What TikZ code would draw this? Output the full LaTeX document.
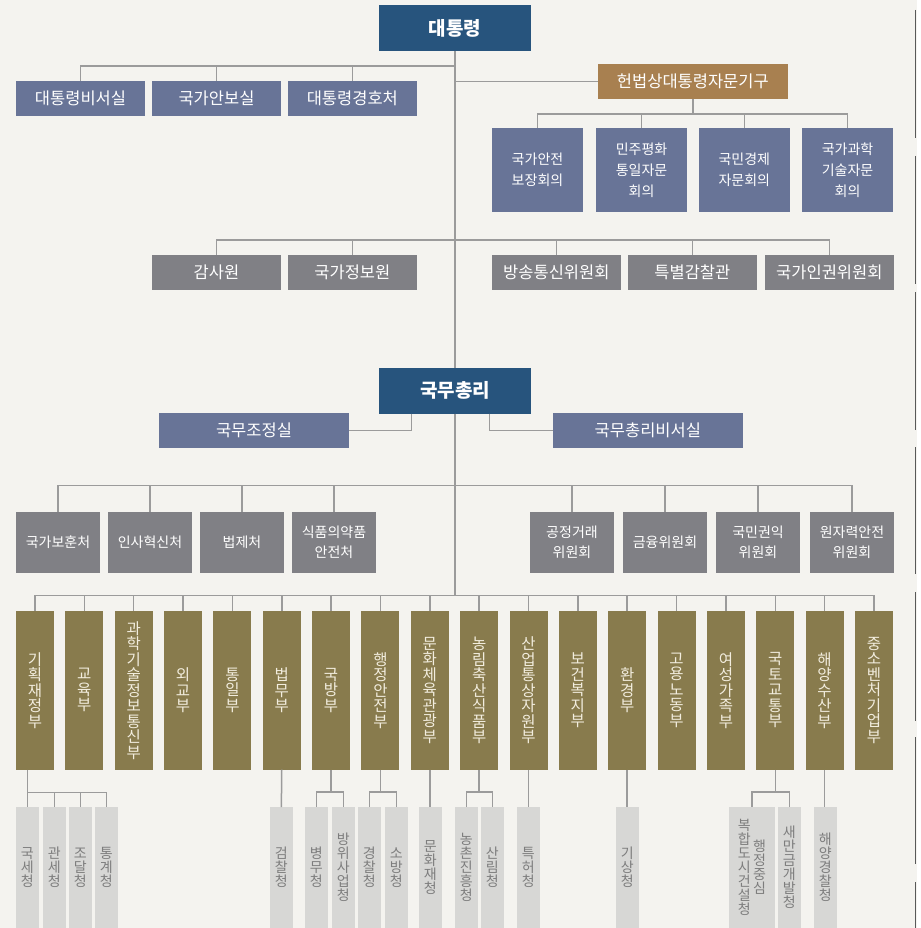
\documentclass[tikz,border=0pt]{standalone}
\usepackage{fontspec}
\setmainfont{Noto Sans CJK KR}
\definecolor{cbg}{RGB}{244,243,239}
\definecolor{cpres}{RGB}{39,84,125}
\definecolor{cslate}{RGB}{104,116,151}
\definecolor{cbrown}{RGB}{168,128,80}
\definecolor{cgray}{RGB}{128,128,133}
\definecolor{colive}{RGB}{136,123,77}
\definecolor{cmtext}{RGB}{242,237,222}
\definecolor{cagen}{RGB}{215,215,213}
\definecolor{catext}{RGB}{125,125,125}
\definecolor{cline}{RGB}{155,155,155}
\def\vstEnd{VSTEND}
\def\vstA#1{\ifx#1\vstEnd\else\hbox{#1}\expandafter\vstA\fi}
\newcommand\vlist[2]{\baselineskip=#1pt\lineskiplimit=-100pt\lineskip=0pt\expandafter\vstA#2\vstEnd}
\newcommand\vtext[2]{\vbox{\vlist{#1}{#2}}}
\newcommand\bx[7]{\node[#6, minimum width={#4-#2}, minimum height={#5-#3}] (#1) at ({(#2+#4)/2},{(#3+#5)/2}) {#7};}
\tikzset{
  box/.style={draw=none, inner sep=0pt, outer sep=0pt, align=center, text=white},
  pres/.style={box, fill=cpres, font=\fontsize{19}{22}\selectfont\bfseries},
  sec/.style={box, fill=cslate, font=\fontsize{16.5}{20}\selectfont},
  adv/.style={box, fill=cbrown, font=\fontsize{16.5}{20}\selectfont},
  advs/.style={box, fill=cslate, font=\fontsize{14}{21}\selectfont},
  grayb/.style={box, fill=cgray, font=\fontsize{16.5}{20}\selectfont},
  grays/.style={box, fill=cgray, font=\fontsize{14}{20.7}\selectfont},
  mini/.style={box, fill=colive, text=cmtext, font=\fontsize{15.5}{15.5}\selectfont},
  agen/.style={box, fill=cagen, text=catext, font=\fontsize{14}{14}\selectfont},
  conn/.style={draw=cline, line width=1.5pt},
  sbar/.style={draw=black!65, line width=1.3pt}
}
\begin{document}
\begin{tikzpicture}[x=1pt,y=-1pt]
\fill[cbg] (0,0) rectangle (920,928);
\useasboundingbox (0,0) rectangle (920,928);
\fill[white] (916.5,0) rectangle (920,928);
% scrollbar-like segments
\foreach \a/\b in {10/138,156/284,292/430,447/574,592/721,737/864,882/928}
  \draw[sbar] (915.7,\a) -- (915.7,\b);

% President
\bx{pres}{379}{5}{531}{51}{pres}{대통령}
\bx{s1}{16}{81}{145}{116}{sec}{대통령비서실}
\bx{s2}{152}{81}{281}{116}{sec}{국가안보실}
\bx{s3}{288}{81}{416.7}{116}{sec}{대통령경호처}
\bx{hb}{598}{64}{787.7}{98.7}{adv}{헌법상대통령자문기구}
\bx{a1}{492}{128}{583}{211.7}{advs}{국가안전\\보장회의}
\bx{a2}{596}{128}{687}{211.7}{advs}{민주평화\\통일자문\\회의}
\bx{a3}{699}{128}{789.7}{211.7}{advs}{국민경제\\자문회의}
\bx{a4}{802}{128}{893}{211.7}{advs}{국가과학\\기술자문\\회의}
\bx{g1}{152}{255}{281}{289.7}{grayb}{감사원}
\bx{g2}{288}{255}{416.7}{289.7}{grayb}{국가정보원}
\bx{g3}{492}{255}{620.7}{289.7}{grayb}{방송통신위원회}
\bx{g4}{628}{255}{756.7}{289.7}{grayb}{특별감찰관}
\bx{g5}{765}{255}{893.7}{289.7}{grayb}{국가인권위원회}

% Prime minister
\bx{pm}{379}{368}{531}{413.7}{pres}{국무총리}
\bx{oc}{159}{413}{349}{447.7}{sec}{국무조정실}
\bx{ps}{553}{413}{742.7}{447.7}{sec}{국무총리비서실}
\bx{o1}{16}{512}{100}{572.7}{grays}{국가보훈처}
\bx{o2}{108}{512}{192}{572.7}{grays}{인사혁신처}
\bx{o3}{200}{512}{284}{572.7}{grays}{법제처}
\bx{o4}{292}{512}{376}{572.7}{grays}{식품의약품\\안전처}
\bx{o5}{530}{512}{614}{572.7}{grays}{공정거래\\위원회}
\bx{o6}{623}{512}{707}{572.7}{grays}{금융위원회}
\bx{o7}{716}{512}{800}{572.7}{grays}{국민권익\\위원회}
\bx{o8}{810}{512}{894}{572.7}{grays}{원자력안전\\위원회}

% connectors, upper part
\coordinate (b1) at (455,66);
\coordinate (b3) at (455,240);
\coordinate (b4) at (455,485.7);
\coordinate (bm) at (455,595.3);
\draw[conn] (pres.south) -- (pm.north);
\draw[conn] (pm.south) -- (bm);
\foreach \n in {s1,s2,s3} \draw[conn] (b1) -| (\n.north);
\draw[conn] (pres.south |- hb.west) -- (hb.west);
\draw[conn] (hb.south) -- ++(0,15.3) coordinate (b2);
\foreach \n in {a1,a2,a3,a4} \draw[conn] (b2) -| (\n.north);
\foreach \n in {g1,g2,g3,g4,g5} \draw[conn] (b3) -| (\n.north);
\draw[conn] ([xshift=-43.3pt]pm.south) |- (oc.east);
\draw[conn] ([xshift=34.3pt]pm.south) |- (ps.west);
\foreach \n in {o1,o2,o3,o4,o5,o6,o7,o8} \draw[conn] (b4) -| (\n.north);

% Ministries
\foreach \t [count=\i] in {기획재정부,교육부,과학기술정보통신부,외교부,통일부,법무부,국방부,행정안전부,문화체육관광부,농림축산식품부,산업통상자원부,보건복지부,환경부,고용노동부,여성가족부,국토교통부,해양수산부,중소벤처기업부}{
  \pgfmathsetmacro\xc{35+(\i-1)*49.35}
  \node[mini, minimum width=38pt, minimum height=158.7pt] (m\i) at (\xc,690.35) {\vtext{15.5}{\t}};
  \draw[conn] (bm) -| (m\i.north);
}

% Agencies
\bx{ag1}{16}{807}{38.7}{928}{agen}{\vtext{14}{국세청}}
\bx{ag2}{43}{807}{65.7}{928}{agen}{\vtext{14}{관세청}}
\bx{ag3}{69}{807}{91.7}{928}{agen}{\vtext{14}{조달청}}
\bx{ag4}{95}{807}{117.7}{928}{agen}{\vtext{14}{통계청}}
\bx{ag5}{270}{807}{292.7}{928}{agen}{\vtext{14}{검찰청}}
\bx{ag6}{305}{807}{327.7}{928}{agen}{\vtext{14}{병무청}}
\bx{ag7}{332}{807}{354.7}{928}{agen}{\vtext{14}{방위사업청}}
\bx{ag8}{358}{807}{380.7}{928}{agen}{\vtext{14}{경찰청}}
\bx{ag9}{385}{807}{407.7}{928}{agen}{\vtext{14}{소방청}}
\bx{ag10}{419}{807}{441.7}{928}{agen}{\vtext{14}{문화재청}}
\bx{ag11}{455}{807}{477.7}{928}{agen}{\vtext{14}{농촌진흥청}}
\bx{ag12}{481}{807}{503.7}{928}{agen}{\vtext{14}{산림청}}
\bx{ag13}{517}{807}{539.7}{928}{agen}{\vtext{14}{특허청}}
\bx{ag14}{616}{807}{638.7}{928}{agen}{\vtext{14}{기상청}}
\bx{ag15}{729}{807}{774.7}{928}{agen}{$\vcenter{\vlist{14}{복합도시건설청}}$\hspace{2.3pt}$\vcenter{\vlist{14}{행정중심}}$}
\bx{ag16}{778}{807}{800.7}{928}{agen}{\vtext{14}{새만금개발청}}
\bx{ag17}{814}{807}{836.7}{928}{agen}{\vtext{14}{해양경찰청}}

% agency connectors
\draw[conn] (m1.south -| ag1.north) -- (ag1.north);
\foreach \n in {ag2,ag3,ag4} \draw[conn] ([yshift=14.7pt]ag1.north) -| (\n.north);
\draw[conn] (m6.south) -- (ag5.north);
\draw[conn] (m7.south) -- ++(0,22.3) coordinate (k7);
\draw[conn] (k7) -| (ag6.north);
\draw[conn] (k7) -| (ag7.north);
\draw[conn] (m8.south) -- ++(0,22.3) coordinate (k8);
\draw[conn] (k8) -| (ag8.north);
\draw[conn] (k8) -| (ag9.north);
\draw[conn] (m9.south) -- (m9.south |- ag10.north);
\draw[conn] (m10.south) -- ++(0,22.3) coordinate (k10);
\draw[conn] (k10) -| (ag11.north);
\draw[conn] (k10) -| (ag12.north);
\draw[conn] (m11.south) -- (m11.south |- ag13.north);
\draw[conn] (m13.south) -- (m13.south |- ag14.north);
\draw[conn] (m16.south) -- ++(0,22.3) coordinate (k16);
\draw[conn] (k16) -| (ag15.north);
\draw[conn] (k16) -| (ag16.north);
\draw[conn] (m17.south) -- (m17.south |- ag17.north);
\end{tikzpicture}
\end{document}
